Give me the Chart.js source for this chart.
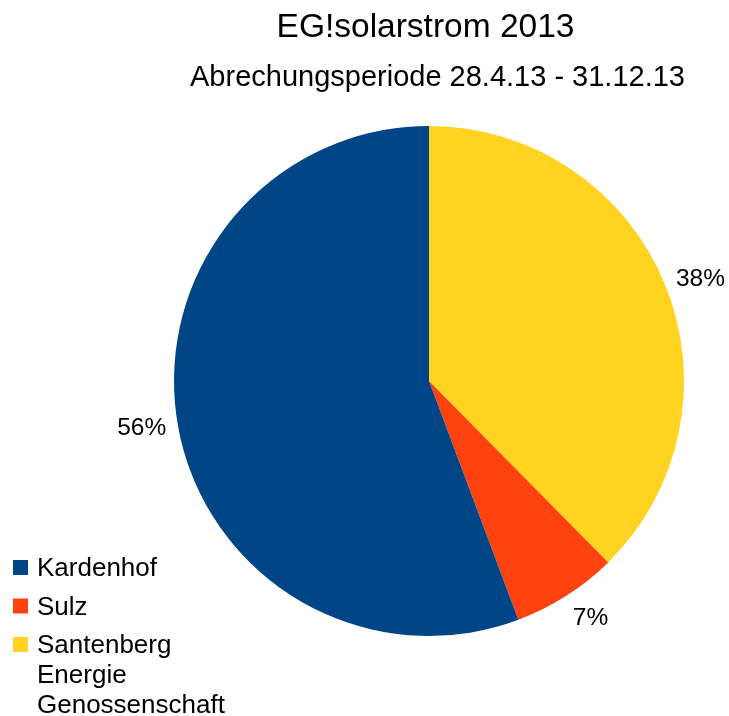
<!DOCTYPE html>
<html>
<head>
<meta charset="utf-8">
<script src="https://cdn.jsdelivr.net/npm/chart.js@4/dist/chart.umd.min.js"></script>
<style>
  html, body { margin: 0; padding: 0; background: #fff; }
  #wrap { width: 729px; height: 716px; }
</style>
</head>
<body>
<div id="wrap"><canvas id="graf"></canvas></div>
<script>
// Anteile in Prozent, Reihenfolge wie in der Legende
const kategorien = ["Kardenhof", "Sulz", "Santenberg Energie Genossenschaft"];
const anteile = [55.7, 6.7, 37.6];
const farben = ["#004586", "#ff420e", "#ffd320"];

const titel = "EG!solarstrom 2013";
const untertitel = "Abrechungsperiode 28.4.13 - 31.12.13";

const schrift = "'Liberation Sans', Arial, sans-serif";

// Kreis wird im Uhrzeigersinn gezeichnet, das Original laeuft andersherum
const reihenfolge = [2, 1, 0];

// Titel selbst zeichnen, Titel und Untertitel sind im Original leicht versetzt
const kopf = {
  id: "kopf",
  afterDraw(chart) {
    const ctx = chart.ctx;
    ctx.save();
    ctx.fillStyle = "#000";
    ctx.textAlign = "center";
    ctx.textBaseline = "alphabetic";
    ctx.font = "33.5px " + schrift;
    ctx.fillText(titel, 425.5, 37);
    ctx.font = "29px " + schrift;
    ctx.fillText(untertitel, 437.5, 86);
    ctx.restore();
  }
};

const beschriftung = {
  id: "beschriftung",
  afterDatasetsDraw(chart) {
    const ctx = chart.ctx;
    const ds = chart.data.datasets[0];
    const summe = ds.data.reduce((a, b) => a + b, 0);
    ctx.save();
    ctx.fillStyle = "#000";
    ctx.font = "24.5px " + schrift;
    chart.getDatasetMeta(0).data.forEach((arc, i) => {
      const p = arc.getProps(["x", "y", "startAngle", "endAngle", "outerRadius"], true);
      const mitte = (p.startAngle + p.endAngle) / 2;
      const r = p.outerRadius + 12;
      const cx = Math.cos(mitte), cy = Math.sin(mitte);
      const x = p.x + r * cx, y = p.y + r * cy;
      ctx.textAlign = cx > 0.3 ? "left" : (cx < -0.3 ? "right" : "center");
      ctx.textBaseline = cy > 0.5 ? "top" : (cy < -0.5 ? "bottom" : "middle");
      ctx.fillText(Math.round(ds.data[i] / summe * 100) + "%", x, y);
    });
    ctx.restore();
  }
};

const legende = {
  id: "legende",
  afterDraw(chart) {
    const ctx = chart.ctx;
    ctx.save();
    ctx.font = "26px " + schrift;
    ctx.textAlign = "left";
    ctx.textBaseline = "alphabetic";
    let y = 576;
    kategorien.forEach((name, i) => {
      ctx.fillStyle = farben[i];
      ctx.fillRect(13, y - 16, 15, 15);
      ctx.fillStyle = "#000";
      // Zeilenumbruch wortweise, wie im Original
      const zeilen = name.split(" ");
      zeilen.forEach((z, k) => {
        ctx.fillText(z, 37, y + k * 30);
      });
      y += 38.5 + (zeilen.length - 1) * 30;
    });
    ctx.restore();
  }
};

new Chart(document.getElementById("graf"), {
  type: "pie",
  data: {
    labels: reihenfolge.map(i => kategorien[i]),
    datasets: [{
      data: reihenfolge.map(i => anteile[i]),
      backgroundColor: reihenfolge.map(i => farben[i]),
      borderWidth: 0
    }]
  },
  options: {
    responsive: true,
    maintainAspectRatio: false,
    animation: false,
    layout: { padding: { left: 129, right: 0, top: 126, bottom: 80 } },
    plugins: {
      legend: { display: false },
      tooltip: { enabled: false },
      title: { display: false }
    }
  },
  plugins: [kopf, beschriftung, legende]
});
</script>
</body>
</html>
